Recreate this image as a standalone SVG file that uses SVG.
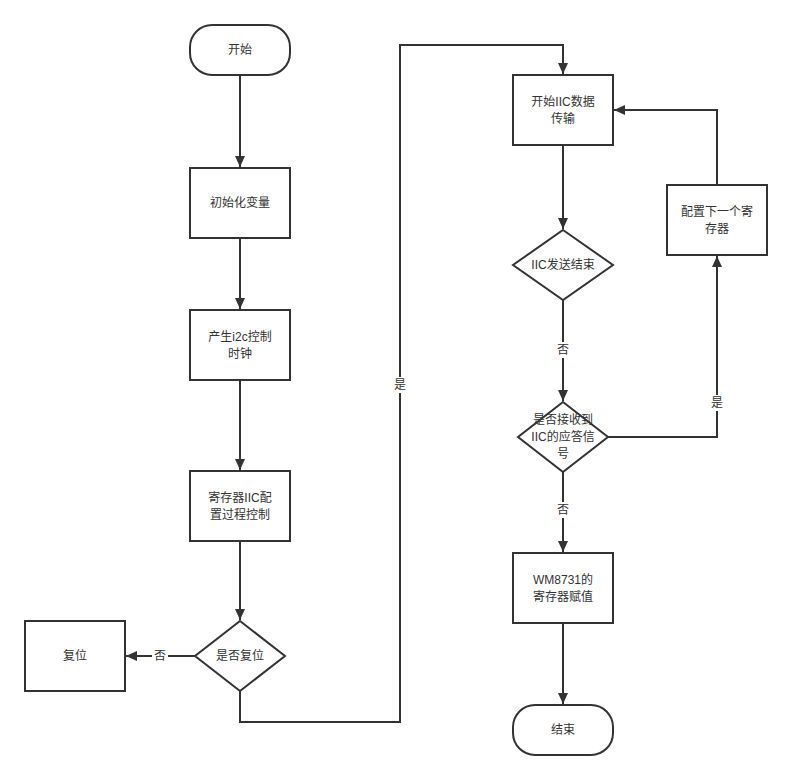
<svg xmlns="http://www.w3.org/2000/svg" width="791" height="780" viewBox="0 0 791 780">
<defs>
<marker id="arr" markerUnits="userSpaceOnUse" markerWidth="12" markerHeight="12" viewBox="0 0 12 12" refX="11" refY="6" orient="auto">
<path d="M0,1 L11,6 L0,11 Z" fill="#333"/>
</marker>
<style>
.n{fill:#fff;stroke:#333;stroke-width:2}
.t{font-family:"Liberation Sans","Noto Sans CJK SC",sans-serif;font-size:12px;fill:#333;text-anchor:middle;dominant-baseline:central}
.e{fill:none;stroke:#333;stroke-width:2}
.lb{fill:#fff}
</style>
</defs>
<rect width="791" height="780" fill="#fff"/>
<g id="connectors">
<path class="e" d="M240,75 V167" marker-end="url(#arr)"/>
<path class="e" d="M240,238 V309" marker-end="url(#arr)"/>
<path class="e" d="M240,380 V470" marker-end="url(#arr)"/>
<path class="e" d="M240,541 V620" marker-end="url(#arr)"/>
<path class="e" d="M195,656 H126" marker-end="url(#arr)"/>
<path class="e" d="M240,691 V722 H400 V45 H563 V74" marker-end="url(#arr)"/>
<path class="e" d="M563,145 V229" marker-end="url(#arr)"/>
<path class="e" d="M563,300 V401" marker-end="url(#arr)"/>
<path class="e" d="M608,437 H717 V256" marker-end="url(#arr)"/>
<path class="e" d="M717,185 V110 H614" marker-end="url(#arr)"/>
<path class="e" d="M563,472 V552" marker-end="url(#arr)"/>
<path class="e" d="M563,623 V704" marker-end="url(#arr)"/>
<rect class="lb" x="152" y="648" width="16" height="16"/>
<text class="t" x="160" y="656">否</text>
<rect class="lb" x="392" y="377" width="16" height="16"/>
<text class="t" x="400" y="385">是</text>
<rect class="lb" x="555" y="342" width="16" height="16"/>
<text class="t" x="563" y="350">否</text>
<rect class="lb" x="709" y="395" width="16" height="16"/>
<text class="t" x="717" y="403">是</text>
<rect class="lb" x="555" y="502" width="16" height="16"/>
<text class="t" x="563" y="510">否</text>
</g>
<g id="start"><rect class="n" x="190" y="25" width="100" height="50" rx="22" ry="22"/><text class="t" x="240" y="50">开始</text></g>
<g id="init"><rect class="n" x="190" y="168" width="100" height="70"/><text class="t" x="240" y="203">初始化变量</text></g>
<g id="clk"><rect class="n" x="190" y="310" width="100" height="70"/><text class="t" x="240" y="337">产生i2c控制</text><text class="t" x="240" y="354">时钟</text></g>
<g id="cfg"><rect class="n" x="190" y="471" width="100" height="70"/><text class="t" x="240" y="498">寄存器IIC配</text><text class="t" x="240" y="515">置过程控制</text></g>
<g id="isreset"><path class="n" d="M240,621 L285,656 L240,691 L195,656 Z"/><text class="t" x="240" y="656">是否复位</text></g>
<g id="reset"><rect class="n" x="25" y="621" width="100" height="70"/><text class="t" x="75" y="656">复位</text></g>
<g id="iicstart"><rect class="n" x="513" y="75" width="100" height="70"/><text class="t" x="563" y="102">开始IIC数据</text><text class="t" x="563" y="119">传输</text></g>
<g id="iicend"><path class="n" d="M563,230 L613,265 L563,300 L513,265 Z"/><text class="t" x="563" y="265">IIC发送结束</text></g>
<g id="ack"><path class="n" d="M563,402 L608,437 L563,472 L518,437 Z"/><text class="t" x="563" y="420">是否接收到</text><text class="t" x="563" y="437">IIC的应答信</text><text class="t" x="563" y="454">号</text></g>
<g id="next"><rect class="n" x="667" y="185" width="100" height="70"/><text class="t" x="717" y="212">配置下一个寄</text><text class="t" x="717" y="229">存器</text></g>
<g id="wm"><rect class="n" x="513" y="553" width="100" height="70"/><text class="t" x="563" y="580">WM8731的</text><text class="t" x="563" y="597">寄存器赋值</text></g>
<g id="end"><rect class="n" x="513" y="705" width="100" height="50" rx="22" ry="22"/><text class="t" x="563" y="730">结束</text></g>
</svg>
